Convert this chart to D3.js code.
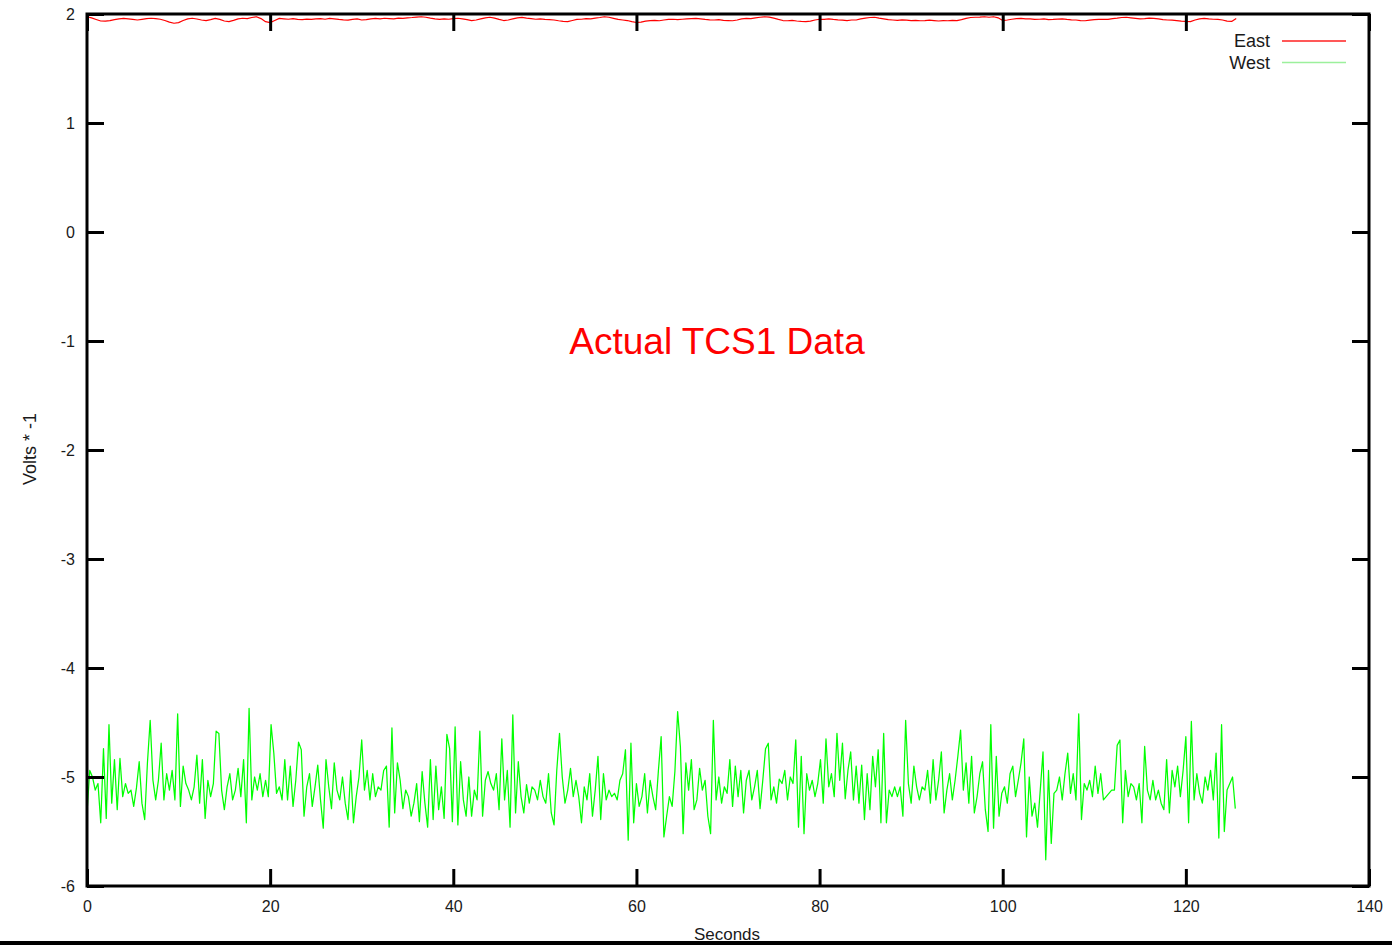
<!DOCTYPE html>
<html>
<head>
<meta charset="utf-8">
<script src="https://cdn.jsdelivr.net/npm/d3@7"></script>
<style>
    html, body { margin: 0; padding: 0; background: #fff; }
    svg { display: block; font-family: "Liberation Sans", Arial, sans-serif; }
    .axis text { fill: #1a1a1a; font-size: 16px; }
</style>
</head>
<body>
<div id="chart"></div>
<script>
"use strict"

//-------------------------------DATA-------------------------------//
const title = "Actual TCS1 Data";
const xLabel = "Seconds";
const yLabel = "Volts * -1";
const seriesNames = ["East", "West"];
const xTicks = [0, 20, 40, 60, 80, 100, 120, 140];
const yTicks = [-6, -5, -4, -3, -2, -1, 0, 1, 2];

// sample spacing in seconds
const eastStep = 0.5;
const westStep = 0.3;

const east = [
    1.975, 1.965, 1.950, 1.936, 1.934, 1.940, 1.949, 1.956, 1.960, 1.955,
    1.950, 1.945, 1.951, 1.957, 1.961, 1.958, 1.952, 1.940, 1.925, 1.915,
    1.921, 1.940, 1.955, 1.961, 1.954, 1.945, 1.940, 1.949, 1.960, 1.951,
    1.936, 1.930, 1.941, 1.955, 1.961, 1.958, 1.968, 1.975, 1.958, 1.930,
    1.921, 1.940, 1.960, 1.956, 1.952, 1.958, 1.951, 1.948, 1.953, 1.951,
    1.955, 1.958, 1.952, 1.960, 1.956, 1.950, 1.946, 1.944, 1.950, 1.955,
    1.945, 1.948, 1.955, 1.960, 1.956, 1.961, 1.958, 1.955, 1.962, 1.960,
    1.965, 1.968, 1.972, 1.975, 1.970, 1.962, 1.955, 1.950, 1.956, 1.952,
    1.958, 1.961, 1.955, 1.948, 1.940, 1.945, 1.955, 1.965, 1.970, 1.962,
    1.950, 1.940, 1.945, 1.955, 1.965, 1.969, 1.962, 1.958, 1.952, 1.956,
    1.951, 1.948, 1.945, 1.938, 1.932, 1.930, 1.940, 1.950, 1.952, 1.958,
    1.955, 1.962, 1.968, 1.975, 1.970, 1.960, 1.950, 1.945, 1.940, 1.930,
    1.922, 1.925, 1.935, 1.940, 1.942, 1.938, 1.945, 1.950, 1.952, 1.948,
    1.952, 1.955, 1.958, 1.960, 1.955, 1.950, 1.946, 1.945, 1.948, 1.942,
    1.940, 1.938, 1.945, 1.955, 1.960, 1.958, 1.965, 1.970, 1.975, 1.972,
    1.962, 1.950, 1.940, 1.938, 1.942, 1.936, 1.932, 1.930, 1.934, 1.945,
    1.952, 1.950, 1.955, 1.950, 1.946, 1.944, 1.940, 1.945, 1.945, 1.955,
    1.962, 1.968, 1.970, 1.962, 1.955, 1.948, 1.945, 1.942, 1.946, 1.944,
    1.940, 1.942, 1.938, 1.940, 1.944, 1.940, 1.936, 1.940, 1.938, 1.942,
    1.940, 1.948, 1.960, 1.968, 1.970, 1.972, 1.975, 1.970, 1.975, 1.965,
    1.940, 1.945, 1.952, 1.958, 1.960, 1.956, 1.955, 1.950, 1.952, 1.955,
    1.948, 1.950, 1.953, 1.955, 1.950, 1.946, 1.945, 1.940, 1.938, 1.944,
    1.948, 1.950, 1.952, 1.950, 1.958, 1.962, 1.968, 1.970, 1.965, 1.960,
    1.955, 1.958, 1.962, 1.960, 1.955, 1.948, 1.945, 1.944, 1.940, 1.935,
    1.932, 1.930, 1.945, 1.955, 1.960, 1.955, 1.952, 1.950, 1.945, 1.935,
    1.932, 1.958
];

const west = [
    // 0 - 32 s
    -5.33, -4.94, -5.00, -5.12, -5.06, -5.42, -4.74, -5.38, -4.52, -5.24,
    -4.84, -5.30, -4.83, -5.18, -5.06, -5.15, -5.12, -5.27, -5.10, -4.86,
    -5.24, -5.39, -4.87, -4.48, -5.03, -5.21, -5.03, -4.69, -5.21, -4.97,
    -5.12, -4.94, -5.21, -4.42, -5.27, -4.90, -5.06, -5.12, -5.21, -5.09,
    -4.80, -5.24, -4.84, -5.38, -5.03, -5.18, -5.06, -4.58, -4.60, -5.12,
    -5.30, -5.09, -4.97, -5.21, -5.12, -4.92, -5.18, -4.84, -5.42, -4.37,
    -5.21, -5.00, -5.12, -4.97, -5.18, -5.03, -5.18, -4.52, -4.78, -5.15,
    -5.09, -5.21, -4.84, -5.21, -4.90, -5.27, -5.03, -4.68, -4.75, -5.36,
    -5.09, -4.97, -5.27, -5.09, -4.89, -5.21, -5.47, -4.84, -5.09, -5.29,
    -4.87, -5.12, -5.21, -5.00, -5.24, -5.39, -4.94, -5.42, -5.18, -5.00,
    -4.66, -5.12, -4.94, -5.21, -4.97, -5.18, -5.09,
    // 32 - 63.5 s
    -5.12, -4.94, -4.90, -5.46, -4.55, -5.33, -4.87, -5.03, -5.29, -5.12,
    -5.18, -5.36, -5.24, -5.06, -5.41, -4.95, -5.24, -5.46, -4.84, -5.39,
    -4.90, -5.30, -5.09, -5.38, -4.61, -4.74, -5.41, -4.54, -5.44, -4.86,
    -5.21, -5.36, -5.00, -5.36, -5.12, -5.21, -4.58, -5.36, -5.03, -4.95,
    -5.06, -5.12, -4.97, -5.30, -4.65, -5.21, -4.94, -5.46, -4.43, -5.33,
    -4.86, -5.18, -5.33, -5.07, -5.24, -5.09, -5.12, -5.21, -5.03, -5.18,
    -5.24, -4.97, -5.33, -5.44, -4.94, -4.60, -5.00, -5.24, -5.12, -4.92,
    -5.18, -5.03, -5.18, -5.42, -5.09, -5.21, -4.97, -5.36, -5.12, -4.81,
    -5.39, -4.97, -5.21, -5.12, -5.18, -5.15, -5.21, -5.03, -4.97, -4.75,
    -5.58, -4.69, -5.42, -5.06, -5.27, -5.18, -4.97, -5.33, -5.03, -5.18,
    -5.30, -4.94, -4.63, -5.55, -5.36,
    // 63.6 - 95.1 s
    -5.18, -5.27, -4.95, -4.40, -4.72, -5.52, -4.87, -5.12, -4.84, -5.30,
    -5.21, -4.92, -5.12, -5.03, -5.36, -5.52, -4.48, -5.21, -5.00, -5.24,
    -5.09, -5.15, -4.84, -5.27, -4.90, -5.18, -4.94, -5.33, -5.03, -4.94,
    -5.21, -5.09, -4.94, -5.29, -5.03, -4.74, -4.69, -5.21, -5.09, -5.24,
    -5.02, -5.06, -4.94, -5.21, -5.00, -5.06, -4.66, -5.46, -4.81, -5.52,
    -4.97, -5.12, -5.03, -5.18, -5.06, -4.84, -5.24, -4.65, -5.09, -4.97,
    -5.18, -4.60, -5.03, -4.69, -5.20, -4.94, -4.77, -5.21, -4.90, -5.24,
    -4.89, -5.39, -4.97, -5.30, -4.81, -5.09, -4.75, -5.42, -4.60, -5.42,
    -5.12, -5.18, -5.09, -5.18, -5.09, -5.36, -4.48, -5.06, -5.24, -4.90,
    -5.09, -5.21, -5.09, -5.12, -4.94, -5.24, -4.84, -5.21, -5.03, -4.77,
    -5.33, -5.12, -4.97, -5.21, -5.03, -4.81,
    // 95.4 - 125.4 s
    -4.57, -5.12, -4.87, -5.24, -4.81, -5.33, -5.18, -4.97, -4.86, -5.30,
    -5.50, -4.52, -5.47, -4.81, -5.36, -5.15, -5.09, -5.24, -4.97, -4.90,
    -5.18, -5.03, -4.87, -4.65, -5.55, -5.00, -5.36, -5.24, -5.46, -5.12,
    -4.77, -5.76, -4.94, -5.61, -5.15, -5.12, -5.00, -5.21, -4.97, -4.78,
    -5.15, -4.97, -5.21, -4.42, -5.39, -5.06, -5.12, -5.03, -5.18, -4.90,
    -5.15, -4.97, -5.21, -5.18, -5.15, -5.12, -5.12, -4.71, -4.66, -5.42,
    -4.94, -5.18, -5.06, -5.09, -5.21, -5.06, -5.42, -4.72, -5.12, -5.21,
    -5.03, -5.21, -5.12, -5.24, -5.30, -4.84, -5.33, -4.94, -5.09, -4.90,
    -5.18, -4.94, -4.63, -5.42, -4.49, -5.21, -4.97, -5.15, -5.24, -5.00,
    -5.12, -4.94, -5.21, -4.78, -5.56, -4.52, -5.50, -5.12, -5.06, -5.00,
    -5.29
];

//---------------------------PREPARATION----------------------------//
const width = 1392;
const height = 945;
const margin = { top: 14, right: 23, bottom: 59, left: 87 };
const innerW = width - margin.left - margin.right;
const innerH = height - margin.top - margin.bottom;
const tickLen = 17;

const svg = d3.select("#chart").append("svg")
    .attr("width", width)
    .attr("height", height);

const g = svg.append("g")
    .attr("transform", `translate(${margin.left},${margin.top})`);

//------------------------------SCALES------------------------------//
const xScale = d3.scaleLinear().domain([0, 140]).range([0, innerW]);
const yScale = d3.scaleLinear().domain([-6, 2]).range([innerH, 0]);

//-------------------------------LINES------------------------------//
const line = (step) => d3.line()
    .x((d, i) => xScale(i * step))
    .y(d => yScale(d));

g.append("path")
    .datum(west)
    .attr("fill", "none")
    .attr("stroke", "#00ff00")
    .attr("stroke-width", 1.25)
    .attr("stroke-linejoin", "round")
    .attr("d", line(westStep));

g.append("path")
    .datum(east)
    .attr("fill", "none")
    .attr("stroke", "#ff0000")
    .attr("stroke-width", 1.2)
    .attr("stroke-linejoin", "round")
    .attr("d", line(eastStep));

//-------------------------------AXES-------------------------------//
const styleAxis = (sel) => {
    sel.select(".domain").remove();
    sel.selectAll(".tick line").attr("stroke", "#000").attr("stroke-width", 3);
};

// plain hyphen for negatives, like the original plot
const fmt = d => String(d);

g.append("g")
    .attr("class", "axis")
    .attr("transform", `translate(0,${innerH})`)
    .call(d3.axisBottom(xScale).tickValues(xTicks).tickFormat(fmt).tickSize(-tickLen).tickPadding(15))
    .call(styleAxis);

g.append("g")
    .attr("class", "axis")
    .call(d3.axisTop(xScale).tickValues(xTicks).tickSize(-tickLen).tickFormat(""))
    .call(styleAxis);

g.append("g")
    .attr("class", "axis")
    .call(d3.axisLeft(yScale).tickValues(yTicks).tickFormat(fmt).tickSize(-tickLen).tickPadding(12))
    .call(styleAxis);

g.append("g")
    .attr("class", "axis")
    .attr("transform", `translate(${innerW},0)`)
    .call(d3.axisRight(yScale).tickValues(yTicks).tickSize(-tickLen).tickFormat(""))
    .call(styleAxis);

// frame
g.append("rect")
    .attr("width", innerW)
    .attr("height", innerH)
    .attr("fill", "none")
    .attr("stroke", "#000")
    .attr("stroke-width", 3);

//------------------------------LABELS------------------------------//
g.append("text")
    .attr("x", 640)
    .attr("y", 926)
    .attr("text-anchor", "middle")
    .attr("fill", "#1a1a1a")
    .style("font-size", "17px")
    .text(xLabel);

svg.append("text")
    .attr("transform", "translate(36,449) rotate(-90)")
    .attr("text-anchor", "middle")
    .attr("fill", "#1a1a1a")
    .style("font-size", "18px")
    .text(yLabel);

svg.append("text")
    .attr("x", 717)
    .attr("y", 354)
    .attr("text-anchor", "middle")
    .attr("fill", "#ff0000")
    .style("font-size", "37px")
    .text(title);

//------------------------------LEGEND------------------------------//
const legendColors = ["#ff2020", "#9cf09c"];
const legend = svg.append("g")
    .selectAll("g")
    .data(seriesNames)
    .join("g")
    .attr("transform", (d, i) => `translate(0,${41 + i * 21.5})`);

legend.append("text")
    .attr("x", 1270)
    .attr("dy", "0.36em")
    .attr("text-anchor", "end")
    .attr("fill", "#1a1a1a")
    .style("font-size", "18px")
    .text(d => d);

legend.append("line")
    .attr("x1", 1282)
    .attr("x2", 1346)
    .attr("stroke", (d, i) => legendColors[i])
    .attr("stroke-width", 1.5);

// bottom border of the slide
svg.append("rect")
    .attr("x", 0)
    .attr("y", 941)
    .attr("width", width)
    .attr("height", 4)
    .attr("fill", "#000");
</script>
</body>
</html>
